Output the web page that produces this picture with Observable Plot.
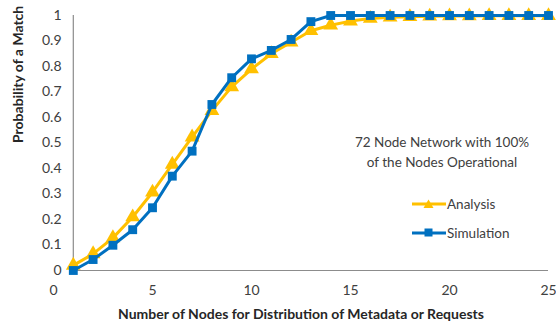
<!DOCTYPE html>
<html><head><meta charset="utf-8">
<script src="https://cdn.jsdelivr.net/npm/d3@7"></script>
<script src="https://cdn.jsdelivr.net/npm/@observablehq/plot@0.6"></script>
<style>
body{margin:0;background:#fff;}
#wrap{position:relative;width:556px;height:325px;font-family:Lato,"Open Sans",sans-serif;}
.leg{position:absolute;left:412px;display:flex;align-items:center;font-size:13.5px;color:#404040;}
.note{position:absolute;left:342px;width:200px;top:132px;text-align:center;font-size:13.5px;line-height:20px;color:#404040;}
</style></head><body>
<div id="wrap"></div>
<script>
const nodes = [1,2,3,4,5,6,7,8,9,10,11,12,13,14,15,16,17,18,19,20,21,22,23,24,25];
const analysis = [0.02,0.065,0.128,0.21,0.307,0.416,0.523,0.627,0.72,0.79,0.85,0.895,0.94,0.962,0.978,0.988,0.993,0.995,0.997,0.998,0.998,0.999,0.999,0.999,0.999];
const simulation = [0,0.043,0.099,0.16,0.246,0.37,0.468,0.651,0.756,0.83,0.863,0.906,0.976,1,1,1,1,1,1,1,1,1,1,1,1];
const xTicks = [0,5,10,15,20,25];
const yTicks = [0,0.1,0.2,0.3,0.4,0.5,0.6,0.7,0.8,0.9,1];
const seriesNames = ["Analysis","Simulation"];
const colors = ["#FFC000","#0070C0"];
const noteLines = ["72 Node Network with 100%","of the Nodes Operational"];
const xTitle = "Number of Nodes for Distribution of Metadata or Requests";
const yTitle = "Probability of a Match";

const A = nodes.map((n,i)=>({x:n,y:analysis[i]}));
const S = nodes.map((n,i)=>({x:n,y:simulation[i]}));
const fmt = d => String(d);

const chart = Plot.plot({
  width:556, height:325,
  marginLeft:53, marginRight:8, marginTop:15, marginBottom:55,
  style:{fontFamily:"Lato, 'Open Sans', sans-serif", fontSize:"14px", color:"#404040", background:"#fff"},
  x:{domain:[0,25], label:null},
  y:{domain:[0,1], label:null},
  marks:[
    Plot.ruleX([1],{y1:0,y2:1,stroke:"#8c8c8c",strokeWidth:1.2}),
    Plot.ruleY([0],{x1:1,x2:25,stroke:"#8c8c8c",strokeWidth:1.2}),
    Plot.line(A,{x:"x",y:"y",stroke:colors[0],strokeWidth:3}),
    Plot.dot(A,{x:"x",y:"y",symbol:"triangle",r:5.5,fill:colors[0],stroke:null}),
    Plot.line(S,{x:"x",y:"y",stroke:colors[1],strokeWidth:3}),
    Plot.dot(S,{x:"x",y:"y",symbol:"square",r:5,fill:colors[1],stroke:null}),
    Plot.axisX({ticks:xTicks,tickSize:0,tickPadding:15,label:null,fontSize:14,tickFormat:fmt}),
    Plot.axisY({ticks:yTicks,tickSize:0,tickPadding:12,dx:20,label:null,fontSize:14,tickFormat:fmt}),
    Plot.text([xTitle],{frameAnchor:"bottom",dy:48,fontWeight:"bold",fontSize:14,fill:"#262626"}),
    Plot.text([yTitle],{frameAnchor:"left",dx:-35,rotate:-90,fontWeight:"bold",fontSize:14,fill:"#262626"})
  ]
});
const wrap = document.getElementById("wrap");
wrap.appendChild(chart);

const note = document.createElement("div");
note.className="note";
note.innerHTML = noteLines.join("<br>");
wrap.appendChild(note);

const legTops = [196,225];
seriesNames.forEach((name,i)=>{
  const d = document.createElement("div");
  d.className="leg"; d.style.top = legTops[i]+"px";
  const sym = i===0 ? '<path d="M16.5,1.5 L21.5,10 L11.5,10 Z" fill="'+colors[i]+'"/>' : '<rect x="12.5" y="1.5" width="8" height="8" fill="'+colors[i]+'"/>';
  d.innerHTML = '<svg width="34" height="12"><line x1="0" x2="34" y1="6" y2="6" stroke="'+colors[i]+'" stroke-width="3"/>'+sym+'</svg><span style="margin-left:1px">'+name+'</span>';
  wrap.appendChild(d);
});
</script>
</body></html>
